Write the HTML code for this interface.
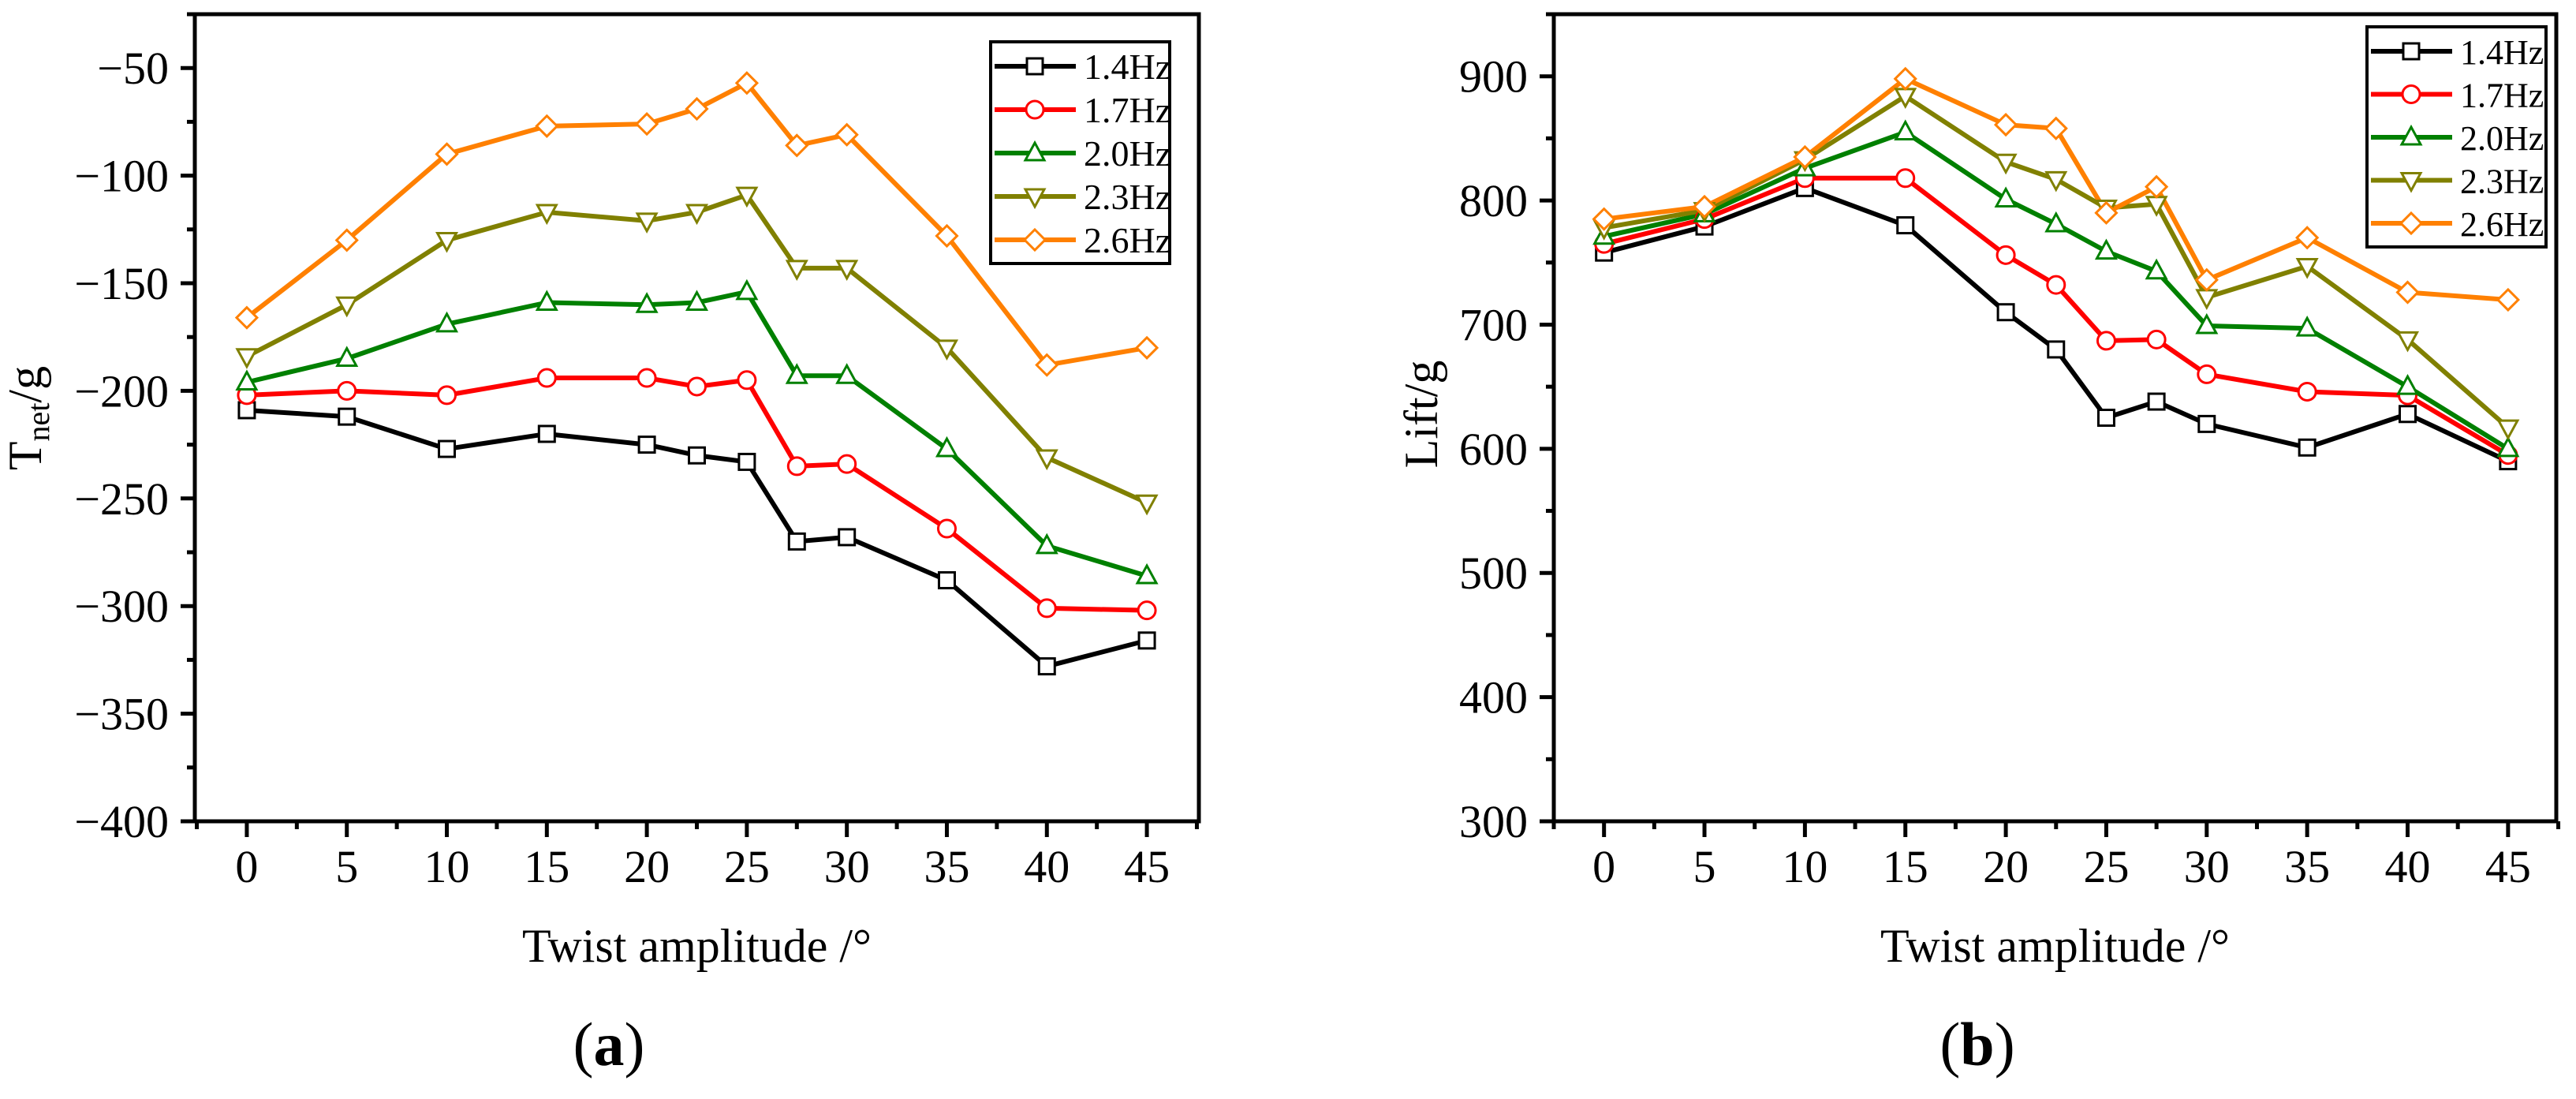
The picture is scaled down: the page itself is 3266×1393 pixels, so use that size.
<!DOCTYPE html>
<html><head><meta charset="utf-8"><style>
html,body{margin:0;padding:0;background:#fff;}
svg{display:block;font-family:"Liberation Serif",serif;}
</style></head><body>
<svg id="fig" width="3266" height="1393" viewBox="0 0 3266 1393" xmlns="http://www.w3.org/2000/svg">
<rect width="3266" height="1393" fill="#fff"/>
<g id="ga"></g>
<g id="gb"></g>
<text x="772" y="1350" font-size="78" text-anchor="middle">(<tspan font-weight="bold">a</tspan>)</text>
<text x="2507" y="1350" font-size="78" text-anchor="middle">(<tspan font-weight="bold">b</tspan>)</text>
</svg>
<script>
const xValues = [0,5,10,15,20,22.5,25,27.5,30,35,40,45];
const xTicks = [0,5,10,15,20,25,30,35,40,45];
const seriesNames = ["1.4Hz","1.7Hz","2.0Hz","2.3Hz","2.6Hz"];
const tnet14 = [-209,-212,-227,-220,-225,-230,-233,-270,-268,-288,-328,-316];
const tnet17 = [-202,-200,-202,-194,-194,-198,-195,-235,-234,-264,-301,-302];
const tnet20 = [-196,-185,-169,-159,-160,-159,-154,-193,-193,-227,-272,-286];
const tnet23 = [-184,-160,-130,-117,-121,-117,-109,-143,-143,-180,-231,-252];
const tnet26 = [-166,-130,-90,-77,-76,-69,-57,-86,-81,-128,-188,-180];
const lift14 = [758,779,810,780,710,680,625,638,620,601,628,590];
const lift17 = [765,785,818,818,756,732,687,688,660,646,643,595];
const lift20 = [771,789,826,855,801,781,759,743,699,697,650,600];
const lift23 = [778,792,833,884,831,817,794,797,722,747,688,617];
const lift26 = [785,795,835,898,861,858,790,811,736,770,726,720];
const tnetTicks = [-400,-350,-300,-250,-200,-150,-100,-50];
const liftTicks = [300,400,500,600,700,800,900];

const NS="http://www.w3.org/2000/svg";
const colors=["#000000","#ff0000","#008000","#808000","#ff8000"];
const markers=["square","circle","up","down","diamond"];
function mk(tag,attrs,parent){const e=document.createElementNS(NS,tag);for(const k in attrs)e.setAttribute(k,attrs[k]);parent.appendChild(e);return e;}
function fmt(v){return v<0?"\u2212"+Math.abs(v):String(v);}
function marker(g,type,x,y,c){
  const s=10;let e;
  if(type==="square") e=mk("rect",{x:x-s,y:y-s,width:2*s,height:2*s,fill:"#fff",stroke:c,"stroke-width":3},g);
  else if(type==="circle") e=mk("circle",{cx:x,cy:y,r:s+1,fill:"#fff",stroke:c,"stroke-width":3},g);
  else if(type==="up") e=mk("polygon",{points:`${x},${y-13} ${x+12},${y+9} ${x-12},${y+9}`,fill:"#fff",stroke:c,"stroke-width":3},g);
  else if(type==="down") e=mk("polygon",{points:`${x},${y+13} ${x+12},${y-9} ${x-12},${y-9}`,fill:"#fff",stroke:c,"stroke-width":3},g);
  else e=mk("polygon",{points:`${x},${y-13} ${x+13},${y} ${x},${y+13} ${x-13},${y}`,fill:"#fff",stroke:c,"stroke-width":3},g);
  return e;
}
function chart(g,cfg){
  const {L,R,T,B,xmin,xmax,ymin,ymax,yTicks,minorStep,series,ylab,legend}=cfg;
  const X=v=>L+(v-xmin)/(xmax-xmin)*(R-L);
  const Y=v=>B-(v-ymin)/(ymax-ymin)*(B-T);
  // series
  series.forEach((d,i)=>{
    const sg=mk("g",{},g);
    
    
    const pts=d.map((v,j)=>X(xValues[j])+","+Y(v)).join(" ");
    mk("polyline",{points:pts,fill:"none",stroke:colors[i],"stroke-width":6,"stroke-linejoin":"round"},sg);
  });
  series.forEach((d,i)=>{
    d.forEach((v,j)=>{
      const m=marker(g,markers[i],X(xValues[j]),Y(v),colors[i]);
      
      
    });
  });
  // frame
  const fr=mk("rect",{x:L,y:T,width:R-L,height:B-T,fill:"none",stroke:"#000","stroke-width":5},g);
  
  
  // y ticks
  for(let v=ymin;v<=ymax+1e-6;v+=minorStep){
    const major=yTicks.includes(v);
    mk("line",{x1:L,x2:L-(major?18:10),y1:Y(v),y2:Y(v),stroke:"#000","stroke-width":5},g);
  }
  yTicks.forEach(v=>{
    const t=mk("text",{x:L-33,y:Y(v)+20,"font-size":58,"text-anchor":"end"},g);
    t.textContent=fmt(v);
    
    
  });
  // x ticks
  for(let v=-2.5;v<=47.5;v+=2.5){
    const major=xTicks.includes(v);
    mk("line",{x1:X(v),x2:X(v),y1:B,y2:B+(major?20:10),stroke:"#000","stroke-width":5},g);
  }
  xTicks.forEach(v=>{
    const t=mk("text",{x:X(v),y:B+77,"font-size":58,"text-anchor":"middle"},g);
    t.textContent=fmt(v);
    
    
  });
  const xt=mk("text",{x:(L+R)/2,y:1219,"font-size":60,"text-anchor":"middle"},g);
  xt.textContent="Twist amplitude /\u00B0";
  
  
  const yt=mk("text",{x:0,y:0,"font-size":60,"text-anchor":"middle",transform:`translate(${ylab.x},${ylab.y}) rotate(-90)`},g);
  
  
  if(ylab.sub){
    const a=mk("tspan",{},yt);a.textContent="T";
    const b=mk("tspan",{"font-size":40,dy:10},yt);b.textContent="net";
    const c=mk("tspan",{dy:-10},yt);c.textContent="/g";
  } else yt.textContent=ylab.text;
  // legend
  const lg=mk("g",{},g);
  
  
  mk("rect",{x:legend.x,y:legend.y,width:legend.w,height:legend.h,fill:"#fff",stroke:"#000","stroke-width":4},lg);
  seriesNames.forEach((n,i)=>{
    const ry=legend.y+legend.r0+i*legend.dy;
    const eg=mk("g",{},lg);
    
    
    mk("line",{x1:legend.x+5,x2:legend.x+108,y1:ry,y2:ry,stroke:colors[i],"stroke-width":6},eg);
    marker(eg,markers[i],legend.x+56,ry,colors[i]);
    const t=mk("text",{x:legend.x+118,y:ry+16,"font-size":legend.fs},eg);
    t.textContent=n;
  });
}
chart(document.getElementById("ga"),{L:247,R:1520,T:18,B:1041,xmin:-2.6,xmax:47.6,ymin:-400,ymax:-25,
  yTicks:tnetTicks,minorStep:25,series:[tnet14,tnet17,tnet20,tnet23,tnet26],
  ylab:{x:52,y:530,sub:true},legend:{x:1256,y:53,w:227,h:281,r0:31,dy:55,fs:46}});
chart(document.getElementById("gb"),{L:1970,R:3241,T:18,B:1041,xmin:-2.5,xmax:47.4,ymin:300,ymax:950,
  yTicks:liftTicks,minorStep:50,series:[lift14,lift17,lift20,lift23,lift26],
  ylab:{x:1822,y:525,text:"Lift/g"},legend:{x:3001,y:34,w:227,h:279,r0:31,dy:54.5,fs:44}});
</script>
</body></html>
